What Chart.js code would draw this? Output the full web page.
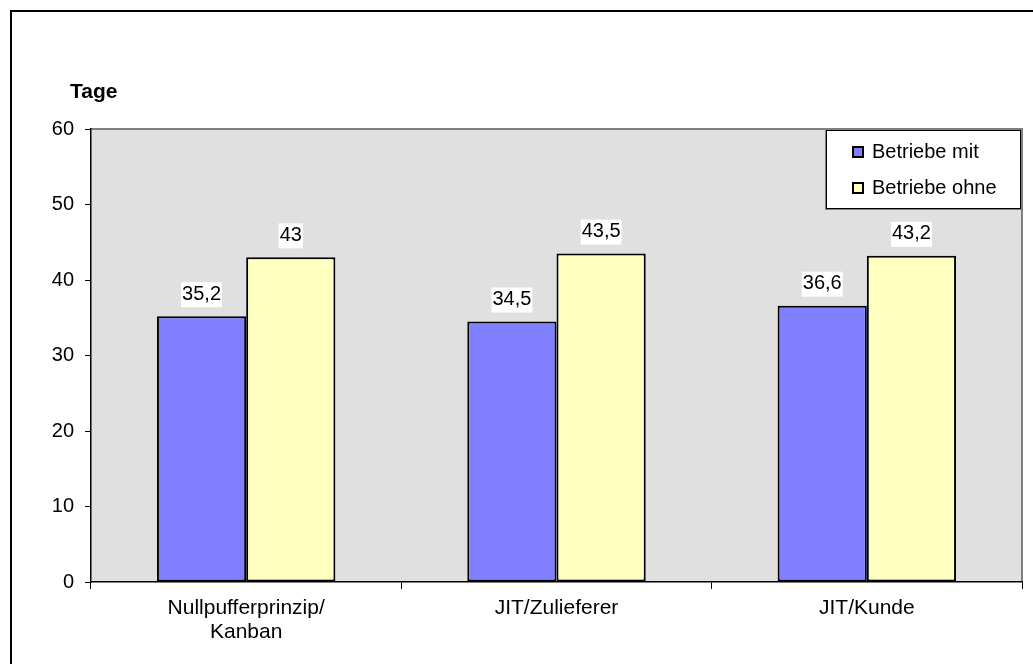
<!DOCTYPE html>
<html>
<head>
<meta charset="utf-8">
<script src="https://cdn.jsdelivr.net/npm/chart.js@4/dist/chart.umd.min.js"></script>
<style>
  html, body { margin: 0; padding: 0; background: #fff; }
  #wrap { width: 1033px; height: 664px; position: relative; }
</style>
</head>
<body>
<div id="wrap"><canvas id="chart"></canvas></div>
<script>
// data
const categories = [['Nullpufferprinzip/', 'Kanban'], 'JIT/Zulieferer', 'JIT/Kunde'];
const seriesNames = ['Betriebe mit', 'Betriebe ohne'];
const betriebeMit = [35.2, 34.5, 36.6];
const betriebeOhne = [43, 43.5, 43.2];
const yTicks = [0, 10, 20, 30, 40, 50, 60];

const FONT = 'Arial, "Liberation Sans", sans-serif';
const colors = ['#8080ff', '#ffffc0'];

const fmt = v => String(v).replace('.', ',');

// plot background, frame, title, legend box, value labels
const decor = {
    id: 'decor',
    beforeDraw(chart) {
        const { ctx, chartArea: a } = chart;
        ctx.save();
        ctx.fillStyle = '#e0e0e0';
        ctx.fillRect(a.left, a.top, a.right - a.left, a.bottom - a.top);
        ctx.strokeStyle = '#808080';
        ctx.lineWidth = 2;
        ctx.beginPath();
        ctx.moveTo(a.left, a.top);
        ctx.lineTo(a.right, a.top);
        ctx.lineTo(a.right, a.bottom);
        ctx.stroke();

        // outer frame (cut off at right/bottom)
        ctx.strokeStyle = '#000';
        ctx.lineWidth = 2;
        ctx.beginPath();
        ctx.moveTo(11, 664);
        ctx.lineTo(11, 11);
        ctx.lineTo(1033, 11);
        ctx.stroke();

        ctx.fillStyle = '#000';
        ctx.font = 'bold 21px ' + FONT;
        ctx.textBaseline = 'middle';
        ctx.fillText('Tage', 70, 92);
        ctx.restore();
    },
    afterDatasetsDraw(chart) {
        const { ctx } = chart;
        ctx.save();
        ctx.font = '20px ' + FONT;
        ctx.textAlign = 'center';
        ctx.textBaseline = 'middle';
        chart.data.datasets.forEach((ds, i) => {
            chart.getDatasetMeta(i).data.forEach((bar, j) => {
                const txt = fmt(ds.data[j]);
                const w = ctx.measureText(txt).width;
                const cy = bar.y - 22;
                ctx.fillStyle = '#fff';
                ctx.fillRect(bar.x - w / 2 - 1, cy - 12, w + 2, 25);
                ctx.fillStyle = '#000';
                ctx.fillText(txt, bar.x, cy);
            });
        });

        // legend box
        const lx = 826, ly = 130, lw = 195, lh = 79;
        ctx.fillStyle = '#808080';
        ctx.fillRect(lx - 1, ly - 1, lw + 2, lh + 2);
        ctx.fillStyle = '#fff';
        ctx.fillRect(lx, ly, lw, lh);
        ctx.strokeStyle = '#000';
        ctx.lineWidth = 1;
        ctx.strokeRect(lx + 0.5, ly + 0.5, lw - 1, lh - 1);
        ctx.textAlign = 'left';
        seriesNames.forEach((name, i) => {
            const cy = 152 + i * 36;
            ctx.fillStyle = colors[i];
            ctx.fillRect(853, cy - 5, 10, 10);
            ctx.lineWidth = 2;
            ctx.strokeStyle = '#000';
            ctx.strokeRect(853, cy - 5, 10, 10);
            ctx.fillStyle = '#000';
            ctx.fillText(name, 872, cy);
        });
        ctx.restore();
    }
};

new Chart(document.getElementById('chart'), {
    type: 'bar',
    data: {
        labels: categories,
        datasets: [
            { label: seriesNames[0], data: betriebeMit, backgroundColor: colors[0] },
            { label: seriesNames[1], data: betriebeOhne, backgroundColor: colors[1] }
        ]
    },
    options: {
        responsive: true,
        maintainAspectRatio: false,
        animation: false,
        layout: { padding: { left: 0, top: 129, right: 11, bottom: 0 } },
        datasets: {
            bar: {
                borderColor: '#000',
                borderWidth: 2,
                borderSkipped: false,
                categoryPercentage: 0.575,
                barPercentage: 1.0
            }
        },
        plugins: {
            legend: { display: false },
            tooltip: { enabled: false }
        },
        scales: {
            x: {
                offset: true,
                afterFit: s => { s.height = 82; },
                grid: { offset: true, drawOnChartArea: false, tickLength: 7, color: '#000' },
                border: { color: '#000', width: 1.5 },
                ticks: { color: '#000', font: { family: FONT, size: 21, lineHeight: 1.15 }, padding: 7, maxRotation: 0 }
            },
            y: {
                min: 0,
                max: 60,
                afterFit: s => { s.width = 91; },
                afterBuildTicks: s => { s.ticks = yTicks.map(v => ({ value: v })); },
                grid: { drawOnChartArea: false, tickLength: 6, color: '#000' },
                border: { color: '#000', width: 1.5 },
                ticks: { color: '#000', font: { family: FONT, size: 20 }, padding: 11 }
            }
        }
    },
    plugins: [decor]
});
</script>
</body>
</html>
